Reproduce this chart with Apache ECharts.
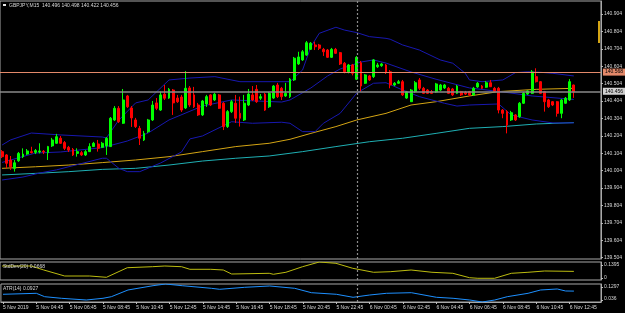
<!DOCTYPE html>
<html>
<head>
<meta charset="utf-8">
<script src="https://cdn.jsdelivr.net/npm/echarts@6.0.0/dist/echarts.min.js"></script>
<style>
  html, body { margin: 0; padding: 0; background: #000; }
  #main { width: 625px; height: 313px; }
</style>
</head>
<body>
<div id="main"></div>
<script>
// GBPJPY M15, 5 Nov 2019 02:45 .. 6 Nov 13:00
// candles: [open, close, low, high]
const candles = [
  [140.113,140.084,140.076,140.122],[140.094,140.046,140.019,140.099],[140.065,140.026,140.008,140.088],[140.017,140.049,139.998,140.065],
  [140.061,140.103,140.054,140.111],[140.084,140.099,140.076,140.132],[140.099,140.117,140.094,140.128],[140.113,140.107,140.103,140.141],
  [140.109,140.119,140.099,140.128],[140.111,140.117,140.103,140.161],[140.115,140.111,140.099,140.122],[140.107,140.142,140.065,140.146],
  [140.146,140.180,140.140,140.192],[140.161,140.199,140.157,140.215],[140.190,140.161,140.157,140.203],[140.165,140.132,140.122,140.174],
  [140.138,140.122,140.111,140.146],[140.126,140.094,140.088,140.134],[140.103,140.113,140.084,140.132],[140.107,140.094,140.088,140.117],
  [140.094,140.113,140.088,140.122],[140.113,140.142,140.111,140.161],[140.142,140.161,140.140,140.169],[140.157,140.132,140.113,140.180],
  [140.138,140.161,140.134,140.169],[140.146,140.190,140.094,140.197],[140.142,140.305,140.140,140.312],[140.295,140.362,140.289,140.375],
  [140.362,140.285,140.278,140.375],[140.276,140.410,140.272,140.473],[140.433,140.371,140.364,140.439],[140.364,140.307,140.255,140.375],
  [140.295,140.257,140.249,140.307],[140.247,140.190,140.151,140.261],[140.180,140.218,140.174,140.232],[140.228,140.295,140.220,140.301],
  [140.295,140.381,140.289,140.404],[140.393,140.362,140.352,140.421],[140.352,140.439,140.347,140.458],[140.443,140.420,140.410,140.496],
  [140.421,140.471,140.416,140.479],[140.467,140.393,140.324,140.473],[140.421,140.400,140.393,140.439],[140.427,140.352,140.341,140.439],
  [140.364,140.477,140.358,140.576],[140.479,140.381,140.370,140.490],[140.439,140.371,140.364,140.485],[140.381,140.324,140.318,140.393],
  [140.324,140.404,140.318,140.410],[140.387,140.429,140.370,140.439],[140.439,140.381,140.375,140.444],[140.410,140.443,140.404,140.450],
  [140.439,140.362,140.358,140.444],[140.391,140.257,140.237,140.398],[140.257,140.343,140.249,140.352],[140.343,140.400,140.335,140.410],
  [140.391,140.305,140.278,140.439],[140.333,140.305,140.257,140.429],[140.295,140.391,140.289,140.439],[140.381,140.444,140.375,140.473],
  [140.439,140.410,140.404,140.490],[140.471,140.400,140.393,140.496],[140.420,140.429,140.410,140.444],[140.443,140.352,140.347,140.450],
  [140.371,140.448,140.364,140.456],[140.421,140.490,140.416,140.496],[140.496,140.429,140.421,140.508],[140.477,140.429,140.410,140.485],
  [140.433,140.448,140.427,140.508],[140.429,140.530,140.421,140.536],[140.525,140.650,140.519,140.657],[140.617,140.657,140.611,140.687],
  [140.640,140.687,140.634,140.697],[140.668,140.739,140.663,140.749],[140.701,140.736,140.697,140.743],[140.726,140.716,140.697,140.745],
  [140.726,140.707,140.697,140.732],[140.701,140.687,140.663,140.709],[140.697,140.655,140.651,140.703],[140.655,140.701,140.651,140.709],
  [140.701,140.678,140.674,140.709],[140.682,140.617,140.611,140.686],[140.621,140.572,140.563,140.628],[140.572,140.611,140.563,140.617],
  [140.611,140.563,140.551,140.617],[140.529,140.655,140.525,140.663],[140.624,140.490,140.458,140.634],[140.506,140.554,140.502,140.559],
  [140.548,140.525,140.519,140.554],[140.544,140.640,140.536,140.645],[140.601,140.611,140.594,140.623],[140.607,140.617,140.600,140.623],
  [140.611,140.567,140.559,140.617],[140.572,140.496,140.477,140.582],[140.496,140.506,140.490,140.513],[140.506,140.515,140.502,140.525],
  [140.515,140.439,140.433,140.525],[140.421,140.456,140.416,140.462],[140.400,140.467,140.398,140.473],[140.458,140.509,140.450,140.519],
  [140.525,140.477,140.467,140.536],[140.477,140.448,140.444,140.485],[140.467,140.448,140.444,140.473],[140.458,140.448,140.444,140.467],
  [140.456,140.502,140.450,140.508],[140.467,140.496,140.462,140.502],[140.479,140.496,140.473,140.502],[140.477,140.448,140.444,140.485],
  [140.473,140.439,140.433,140.479],[140.448,140.490,140.444,140.496],[140.458,140.439,140.433,140.462],[140.455,140.444,140.439,140.462],
  [140.458,140.439,140.433,140.462],[140.439,140.477,140.433,140.485],[140.485,140.506,140.479,140.513],[140.490,140.477,140.473,140.496],
  [140.483,140.509,140.479,140.519],[140.509,140.486,140.485,140.525],[140.477,140.458,140.456,140.485],[140.477,140.352,140.333,140.485],
  [140.352,140.333,140.305,140.358],[140.343,140.266,140.218,140.352],[140.295,140.337,140.289,140.347],[140.324,140.295,140.289,140.329],
  [140.314,140.391,140.307,140.398],[140.391,140.448,140.387,140.456],[140.444,140.462,140.439,140.467],[140.448,140.571,140.444,140.582],
  [140.544,140.515,140.510,140.592],[140.515,140.448,140.444,140.519],[140.458,140.400,140.343,140.462],[140.410,140.371,140.364,140.416],
  [140.400,140.381,140.375,140.404],[140.400,140.333,140.314,140.404],[140.333,140.410,140.305,140.416],[140.391,140.420,140.387,140.427],
  [140.410,140.515,140.404,140.530],[140.496,140.456,140.422,140.498]
];

// line studies as [bar index, value]
const maFast = [[0,140.017],[8,140.026],[16,140.036],[24,140.050],[32,140.065],[40,140.084],[48,140.113],[56,140.142],[64,140.161],[69,140.184],
  [74,140.218],[80,140.257],[85,140.295],[92,140.333],[98,140.381],[104,140.400],[112,140.433],[119,140.458],[128,140.471],[137,140.477]];
const maSlow = [[0,139.979],[8,139.988],[16,139.998],[24,140.011],[32,140.017],[40,140.036],[48,140.059],[56,140.075],[64,140.088],[72,140.113],
  [80,140.142],[88,140.170],[96,140.190],[104,140.218],[112,140.247],[120,140.257],[128,140.272],[137,140.280]];
const bbUpper = [[0,140.151],[2,140.180],[7,140.220],[14,140.209],[24,140.197],[25,140.192],[28,140.295],[32,140.393],[35,140.410],[40,140.525],
  [45,140.536],[51,140.544],[57,140.515],[69,140.515],[72,140.582],[74,140.716],[76,140.793],[80,140.828],[82,140.812],[85,140.797],[88,140.774],
  [92,140.764],[93,140.759],[96,140.726],[100,140.697],[105,140.640],[108,140.621],[111,140.563],[112,140.525],[115,140.515],[120,140.525],
  [123,140.567],[126,140.572],[129,140.569],[132,140.563],[137,140.548]];
const bbMiddle = [[0,140.051],[8,140.105],[14,140.111],[24,140.136],[30,140.174],[35,140.220],[40,140.295],[48,140.375],[55,140.410],[67,140.398],
  [69,140.410],[74,140.479],[78,140.548],[81,140.588],[86,140.628],[89,140.640],[92,140.622],[98,140.571],[104,140.529],[112,140.479],
  [120,140.456],[127,140.433],[137,140.413]];
const bbLower = [[0,139.950],[5,139.967],[9,139.990],[13,140.008],[24,140.075],[25,140.075],[28,140.017],[30,139.998],[33,139.998],[38,140.048],
  [43,140.111],[45,140.186],[48,140.203],[55,140.285],[60,140.276],[67,140.282],[69,140.276],[72,140.228],[75,140.228],[77,140.276],[81,140.333],
  [85,140.450],[89,140.506],[92,140.509],[96,140.467],[100,140.429],[103,140.410],[106,140.391],[109,140.375],[112,140.381],[119,140.387],
  [122,140.324],[127,140.295],[132,140.278],[137,140.278]];
const stdDev = [[0,0.1085],[7,0.1085],[10,0.0775],[15,0.031],[21,0.031],[25,0.0209],[30,0.0953],[36,0.1031],[39,0.1085],[43,0.1031],[45,0.0829],
  [50,0.0829],[53,0.0775],[55,0.0465],[64,0.0519],[65,0.0442],[68,0.0597],[72,0.1031],[76,0.1395],[80,0.1294],[84,0.0907],[89,0.0597],
  [93,0.0643],[98,0.0775],[103,0.0597],[108,0.0519],[112,0.0178],[114,0.0132],[118,0.0132],[122,0.0519],[126,0.0597],[130,0.0698],[137,0.0668]];
const atr = [[0,0.0761],[8,0.0813],[10,0.0636],[14,0.0553],[20,0.0464],[24,0.0553],[26,0.0636],[30,0.0985],[36,0.1209],[39,0.1297],[43,0.1209],
  [50,0.1073],[52,0.1021],[58,0.1125],[64,0.1193],[70,0.1073],[74,0.0844],[80,0.0761],[84,0.0605],[88,0.0724],[92,0.0813],[98,0.0844],
  [104,0.0605],[108,0.0553],[112,0.0464],[115,0.036],[118,0.0464],[121,0.0636],[126,0.0813],[129,0.0985],[133,0.1037],[135,0.0933],[137,0.0927]];

const timeLabels = ['5 Nov 2019','5 Nov 04:45','5 Nov 06:45','5 Nov 08:45','5 Nov 10:45','5 Nov 12:45','5 Nov 14:45','5 Nov 16:45',
  '5 Nov 18:45','5 Nov 20:45','5 Nov 22:45','6 Nov 00:45','6 Nov 02:45','6 Nov 04:45','6 Nov 06:45','6 Nov 08:45','6 Nov 10:45','6 Nov 12:45'];
const priceTicks = [139.504,139.604,139.704,139.804,139.904,140.004,140.104,140.204,140.304,140.404,140.504,140.604,140.704,140.804,140.904];
const stdDevRange = [0, 0.1395];
const atrRange = [0.036, 0.1297];
const headerText = 'GBPJPY,M15  140.496 140.498 140.422 140.456';
const levelPrice = 140.568;   // orange horizontal line
const bidPrice = 140.456;
const daySplit = 85;          // 6 Nov 00:00
const slots = 144;            // bars that fit the window incl. right shift

const FONT = 'Liberation Sans';
const TXT = '#d8d8d8';
const FRAME = '#a8a8a8';

const cats = [];
for (let i = 0; i < slots; i++) cats.push(String(i));

const chart = echarts.init(document.getElementById('main'), null, {renderer: 'canvas'});

function hiddenX(grid) {
  return {
    type: 'category', gridIndex: grid, data: cats, boundaryGap: true,
    axisLine: {show: false}, axisTick: {show: false}, axisLabel: {show: false}, splitLine: {show: false}
  };
}

// sub window scale: MT4 prints the range ends just inside the window,
// 3 px in from the top and 2 px up from the bottom (18 px window)
function subTicks(range) {
  const px = (range[1] - range[0]) / 18;
  return [range[0] + 2 * px, range[1] - 3 * px];
}

function subAxis(grid, range, labelled) {
  const lo = range[0], hi = range[1];
  return {
    type: 'value', gridIndex: grid, position: 'right', min: lo, max: hi,
    axisLine: {show: true, lineStyle: {color: FRAME}},
    splitLine: {show: false},
    axisTick: {show: true, length: 2, customValues: subTicks(range), lineStyle: {color: '#c0c0c0'}},
    axisLabel: {
      customValues: labelled, color: TXT, fontSize: 5, fontFamily: FONT, margin: 3,
      formatter: v => (v > (lo + hi) / 2 ? String(hi) : String(lo))
    }
  };
}

const dayLine = {
  silent: true, symbol: 'none', animation: false,
  label: {show: false},
  lineStyle: {color: '#8c8c8c', type: [2, 2], width: 1.2},
  data: [{xAxis: daySplit}]
};

function studyLine(name, data, color, x, y) {
  return {
    name: name, type: 'line', xAxisIndex: x, yAxisIndex: y, data: data,
    symbol: 'none', smooth: false, animation: false,
    lineStyle: {color: color, width: 1}, z: 3
  };
}

const smallText = {color: TXT, fontSize: 5, fontWeight: 'normal', fontFamily: FONT};

const option = {
  backgroundColor: '#000',
  animation: false,
  title: [
    {text: headerText, left: 9, top: 3, padding: 0, textStyle: smallText},
    {text: 'StdDev(20) 0.0668', left: 3, top: 264, padding: 0, textStyle: smallText},
    {text: 'ATR(14) 0.0927', left: 3, top: 286, padding: 0, textStyle: smallText},
    // lowest ATR scale label sits too near the time axis for the axis to keep it
    {text: String(atrRange[0]), left: 604, top: 296, padding: 0, textStyle: smallText}
  ],
  graphic: [
    {type: 'rect', left: 3, top: 4, shape: {width: 3, height: 2}, style: {fill: '#e8e8e8'}}
  ],
  grid: [
    {left: 0, top: 1, width: 601, height: 258, show: true, borderColor: FRAME, borderWidth: 1, backgroundColor: 'transparent'},
    {left: 0, top: 262, width: 601, height: 18, show: true, borderColor: FRAME, borderWidth: 1, backgroundColor: 'transparent'},
    {left: 0, top: 284, width: 601, height: 18, show: true, borderColor: FRAME, borderWidth: 1, backgroundColor: 'transparent'}
  ],
  xAxis: [
    hiddenX(0),
    hiddenX(1),
    {
      type: 'category', gridIndex: 2, data: cats, boundaryGap: true,
      axisLine: {show: true, lineStyle: {color: FRAME}},
      axisTick: {show: true, interval: 7, alignWithLabel: true, length: 2, lineStyle: {color: '#c0c0c0'}},
      axisLabel: {
        interval: 7, align: 'left', color: TXT, fontSize: 5, fontFamily: FONT, margin: 3,
        formatter: (v, i) => timeLabels[i / 8] || ''
      },
      splitLine: {show: false}
    }
  ],
  yAxis: [
    {
      type: 'value', gridIndex: 0, position: 'right', min: 139.496, max: 140.9787,
      axisLine: {show: true, lineStyle: {color: FRAME}},
      splitLine: {show: false},
      axisTick: {show: true, length: 2, customValues: priceTicks, lineStyle: {color: '#c0c0c0'}},
      axisLabel: {
        customValues: priceTicks, color: TXT, fontSize: 5, fontFamily: FONT, margin: 3,
        formatter: v => v.toFixed(3)
      }
    },
    subAxis(1, stdDevRange, subTicks(stdDevRange)),
    subAxis(2, atrRange, [subTicks(atrRange)[1]])
  ],
  series: [
    studyLine('ma slow', maSlow, '#1fb0b4', 0, 0),
    studyLine('ma fast', maFast, '#d4a514', 0, 0),
    studyLine('bb upper', bbUpper, '#1818b0', 0, 0),
    studyLine('bb middle', bbMiddle, '#1818b0', 0, 0),
    studyLine('bb lower', bbLower, '#1818b0', 0, 0),
    {
      name: 'GBPJPY', type: 'candlestick', xAxisIndex: 0, yAxisIndex: 0, data: candles,
      barWidth: 2.4, z: 4,
      itemStyle: {color: '#00ff00', color0: '#ff0000', borderColor: '#00ff00', borderColor0: '#ff0000', borderWidth: 1},
      markLine: {
        silent: true, symbol: 'none', animation: false,
        data: [
          {
            yAxis: levelPrice,
            lineStyle: {color: '#e3896a', type: 'solid', width: 1},
            label: {
              show: true, position: 'end', distance: 2, formatter: levelPrice.toFixed(3),
              backgroundColor: '#e3896a', color: '#000', fontSize: 5, fontFamily: FONT, padding: [1, 2]
            }
          },
          {
            yAxis: bidPrice,
            lineStyle: {color: '#8a8a8a', type: 'solid', width: 1.5},
            label: {
              show: true, position: 'end', distance: 2, formatter: bidPrice.toFixed(3),
              backgroundColor: '#d0d0d0', color: '#000', fontSize: 5, fontFamily: FONT, padding: [1, 2]
            }
          },
          {
            xAxis: daySplit, label: {show: false},
            lineStyle: {color: '#8c8c8c', type: [2, 2], width: 1.2}
          },
          [
            {coord: [143, 140.864], lineStyle: {color: '#d4a514', type: 'solid', width: 2}, label: {show: false}},
            {coord: [143, 140.737]}
          ]
        ]
      }
    },
    Object.assign(studyLine('StdDev(20)', stdDev, '#bcbc10', 1, 1), {markLine: dayLine}),
    Object.assign(studyLine('ATR(14)', atr, '#1e90ff', 2, 2), {markLine: dayLine})
  ]
};

chart.setOption(option);
</script>
</body>
</html>
